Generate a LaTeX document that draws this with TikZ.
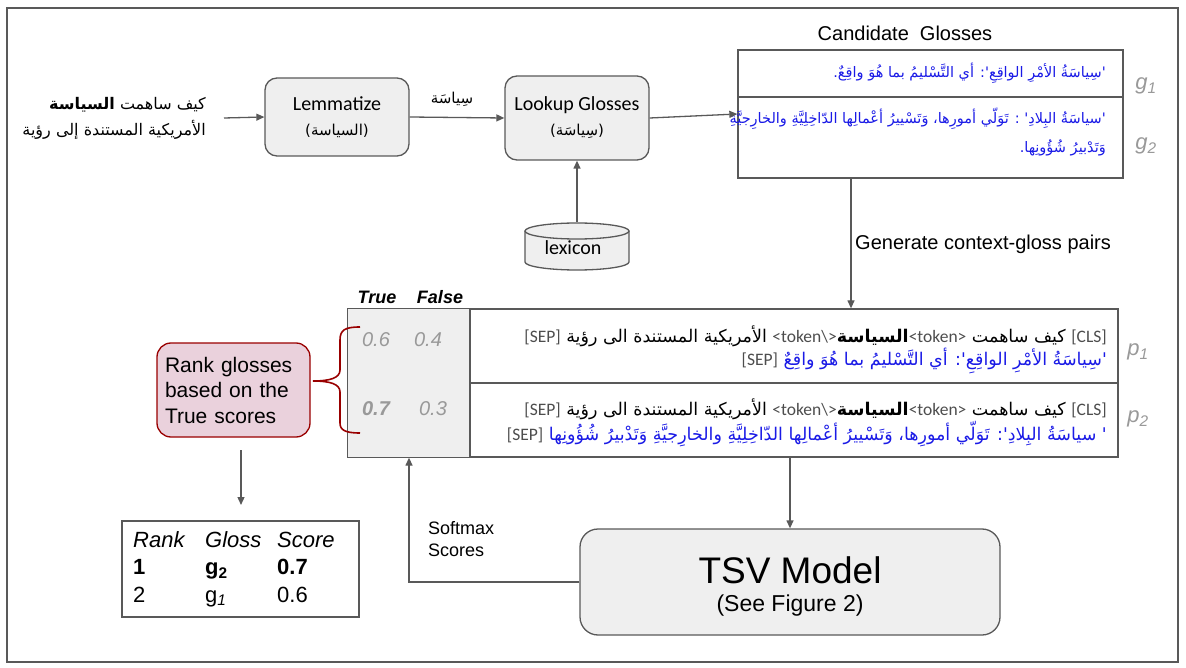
\documentclass[tikz,border=0pt]{standalone}
\usepackage{fontspec}
\setmainfont{Liberation Sans}
\newfontfamily\arfont[Script=Arabic]{DejaVu Sans}
\newfontfamily\calfont{Carlito}
\usetikzlibrary{arrows.meta}
\TeXXeTstate=1
\definecolor{linegray}{HTML}{595959}
\definecolor{boxfill}{HTML}{EFEFEF}
\definecolor{glossblue}{HTML}{1A1AE6}
\definecolor{lightnum}{HTML}{999999}
\definecolor{braceRed}{HTML}{990000}
\definecolor{pinkfill}{HTML}{EAD1DC}
\definecolor{tokgray}{HTML}{4D4D4D}
\newcommand{\LT}[1]{\beginL{\calfont\color{tokgray}\fontsize{17.5}{18}\selectfont #1}\endL}
\tikzset{
  arr/.style={draw=linegray, line width=1.3pt, -{Triangle[length=8pt,width=7pt]}},
  plain/.style={draw=linegray, line width=1.3pt},
  gbox/.style={draw=linegray, fill=boxfill, line width=1.3pt, rounded corners=12pt, inner sep=0},
  glab/.style={font=\fontsize{22}{24}\selectfont\itshape, text=lightnum, inner sep=0},
  num/.style={font=\fontsize{20}{22}\selectfont\itshape, text=lightnum, inner sep=0},
  rowtxt/.style={anchor=east, inner sep=0, font=\arfont\fontsize{17.5}{19}\selectfont},
  cylsty/.style={draw=linegray, fill=boxfill, line width=1.3pt},
}
\begin{document}
\begin{tikzpicture}[x=1pt,y=-1pt]
\useasboundingbox (0,0) rectangle (1186,668);
\draw[plain] (7,8) rectangle (1178,662);

% input sentence
\node[anchor=east, align=right, inner sep=0, font=\arfont\fontsize{16}{26}\selectfont] (inp) at (206,118)
  {\leavevmode\beginR كيف ساهمت \textbf{السياسة}\endR\\\leavevmode\beginR الأمريكية المستندة إلى رؤية\endR};

% lemmatize
\node[gbox, minimum width=144, minimum height=78, align=center, font=\calfont\fontsize{20}{25}\selectfont] (lem) at (337,117)
  {Lemmatize\\{\arfont\fontsize{15}{25}\selectfont\leavevmode\beginR(السياسة)\endR}};
\draw[arr] ([xshift=18pt]inp.east) -- (lem.west);

% lookup
\node[gbox, minimum width=144, minimum height=84, align=center, font=\calfont\fontsize{20}{25}\selectfont] (look) at (577,118)
  {Lookup Glosses\\{\arfont\fontsize{15}{25}\selectfont\leavevmode\beginR(سِياسَة)\endR}};
\draw[arr] (lem.east) -- (look.west);
\node[font=\arfont\fontsize{15}{18}\selectfont, inner sep=0] (lbl) at (452,99) {\beginR سِياسَة\endR};

% lexicon
\node[inner sep=0, minimum width=104, minimum height=48] (lex) at (577,246) {};
\filldraw[cylsty] (525,231) -- (525,262) arc[start angle=180, end angle=0, x radius=52, y radius=8] -- (629,231);
\filldraw[cylsty] (577,231) ellipse[x radius=52, y radius=8];
\node[font=\calfont\fontsize{20}{24}\selectfont, inner sep=0] (lexT) at (573,248) {lexicon};
\draw[arr] (lex.north) -- (look.south);

% candidate glosses
\node[font=\fontsize{20}{24}\selectfont] (candT) at (905,33) {Candidate\ \ Glosses};
\node[draw=linegray, line width=1.3pt, minimum width=385, minimum height=128, inner sep=0] (cand) at (930.5,114) {};
\coordinate (d1) at (0,97);
\draw[plain] (cand.west |- d1) -- (cand.east |- d1);
\node[rowtxt, font=\arfont\fontsize{14.5}{29}\selectfont, text=glossblue] (gl1) at (1106,73)
  {\beginR 'سِياسَةُ الأمْرِ الواقِعِ': أي التَّسْليمُ بما هُوَ واقِعٌ.\endR};
\node[rowtxt, align=right, font=\arfont\fontsize{14.5}{29}\selectfont, text=glossblue] (gl2) at (1106,132)
  {\leavevmode\beginR 'سياسَةُ البِلادِ' : تَوَلّي أمورِها، وَتَسْييرُ أعْمالِها الدّاخِلِيَّةِ والخارِجيَّةِ\endR\\\leavevmode\beginR وَتَدْبيرُ شُؤُونِها.\endR};
\node[glab] (g1) at (1146,86) {g\textsubscript{1}};
\node[glab] (g2) at (1146,146) {g\textsubscript{2}};
\draw[arr] (look.east) -- (cand.west);

% generate pairs
\node[draw=linegray, line width=1.3pt, minimum width=770, minimum height=148, inner sep=0] (tab) at (733,383) {};
\coordinate (genx) at (851,0);
\draw[arr] (cand.south -| genx) -- (tab.north -| genx);
\node[anchor=west, font=\fontsize{20}{24}\selectfont, inner sep=0] (genlbl) at (855,244) {Generate context-gloss pairs};

% table
\coordinate (colx) at (470,0);
\coordinate (rowy) at (0,383);
\fill[boxfill] (tab.north west) rectangle (tab.south -| colx);
\draw[plain] (tab.north west) rectangle (tab.south -| colx);
\draw[plain] (colx |- rowy) -- (tab.east |- rowy);
\node[font=\fontsize{18}{20}\selectfont\bfseries\itshape, inner sep=0] (tT) at (377,297) {True};
\node[font=\fontsize{18}{20}\selectfont\bfseries\itshape, inner sep=0] (fF) at (440,297) {False};
\node[num] (s1t) at (376,340) {0.6};
\node[num] (s1f) at (428,340) {0.4};
\node[num] (s2t) at (376,409) {\textbf{0.7}};
\node[num] (s2f) at (433,409) {0.3};

\node[rowtxt] (r1a) at (1107,336)
  {\beginR \LT{[CLS]} كيف ساهمت \LT{<token>}\textbf{السياسة}\LT{<token\textbackslash>} الأمريكية المستندة الى رؤية \LT{[SEP]}\endR};
\node[rowtxt, text=glossblue] (r1b) at (1107,361)
  {\beginR 'سِياسَةُ الأمْرِ الواقِعِ': أي التَّسْليمُ بما هُوَ واقِعٌ \LT{[SEP]}\endR};
\node[rowtxt] (r2a) at (1107,409)
  {\beginR \LT{[CLS]} كيف ساهمت \LT{<token>}\textbf{السياسة}\LT{<token\textbackslash>} الأمريكية المستندة الى رؤية \LT{[SEP]}\endR};
\node[rowtxt, text=glossblue] (r2b) at (1107,434)
  {\beginR ' سياسَةُ البِلادِ': تَوَلّي أمورِها، وَتَسْييرُ أعْمالِها الدّاخِلِيَّةِ والخارِجيَّةِ وَتَدْبيرُ شُؤُونِها \LT{[SEP]}\endR};
\node[glab] (p1) at (1138,352) {p\textsubscript{1}};
\node[glab] (p2) at (1138,419) {p\textsubscript{2}};

% brace and rank box
\draw[draw=braceRed, line width=1.6pt] (360,327) .. controls (345,327) and (340,330) .. (340,340) -- (340,370)
  .. controls (340,378) and (330,381) .. (313,381) .. controls (330,381) and (340,384) .. (340,392)
  -- (340,423) .. controls (340,430) and (345,433) .. (360,433);
\node[draw=braceRed, fill=pinkfill, line width=1.3pt, rounded corners=14pt, minimum width=153, minimum height=94,
  text width=137, inner xsep=8, inner ysep=0, align=left, font=\fontsize{21}{25.5}\selectfont] (rank) at (233.5,390)
  {Rank glosses\\based on the\\True scores};
\coordinate (ra) at (241,450);
\coordinate (rb) at (241,505);
\draw[arr] (ra) -- (rb);

% rank table
\node[draw=linegray, line width=1.3pt, minimum width=237, minimum height=96, inner sep=0] (rtab) at (240.5,569) {};
\node[anchor=north west, inner sep=0, font=\fontsize{22}{27.5}\selectfont] (rtabtxt) at (133,528)
  {\begin{tabular}{@{}p{72pt}@{}p{72pt}@{}l@{}}
   \textit{Rank} & \textit{Gloss} & \textit{Score}\\
   \textbf{1} & \textbf{g\textsubscript{2}} & \textbf{0.7}\\
   2 & g\textsubscript{\textit{1}} & 0.6
   \end{tabular}};

% TSV model
\node[gbox, rounded corners=18pt, minimum width=420, minimum height=106] (tsv) at (790,582) {};
\node[font=\fontsize{37}{40}\selectfont, inner sep=0] (tsvT) at (790,570) {TSV Model};
\node[font=\fontsize{23}{26}\selectfont, inner sep=0] (tsvS) at (790,606) {(See Figure 2)};
\draw[arr] (tab.south -| tsv.north) -- (tsv.north);
\coordinate (fbx) at (409,0);
\draw[arr] (tsv.west) -| (tab.south -| fbx);
\node[anchor=north west, align=left, inner sep=0, font=\fontsize{18}{22}\selectfont] (smx) at (428,521) {Softmax\\Scores};
\end{tikzpicture}
\end{document}
